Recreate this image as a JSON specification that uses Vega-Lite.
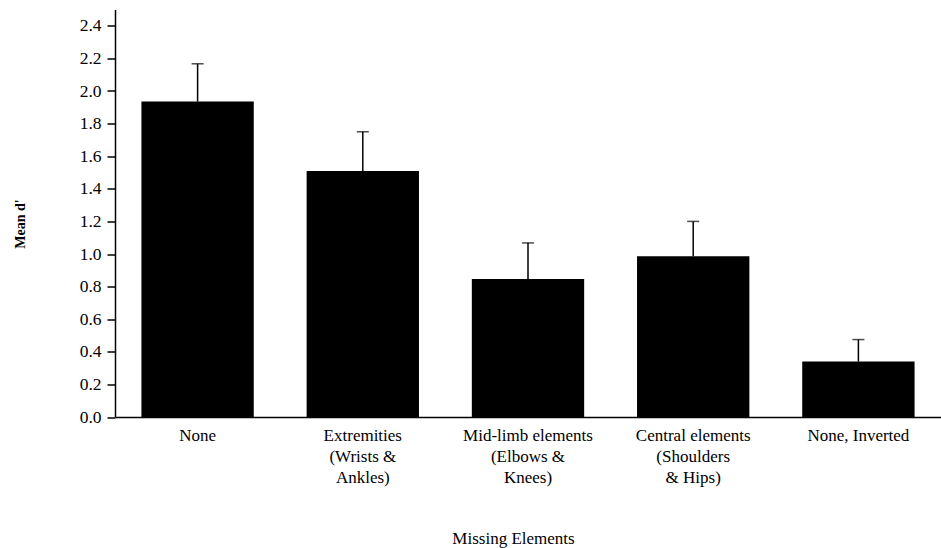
{
  "$schema": "https://vega.github.io/schema/vega-lite/v6.json",
  "autosize": "none",
  "width": 826,
  "height": 407.5,
  "padding": {"left": 115, "top": 9.5, "right": 0, "bottom": 131},
  "background": "white",
  "config": {
    "view": {"stroke": null},
    "font": "Liberation Serif",
    "axis": {"labelFont": "Liberation Serif", "titleFont": "Liberation Serif", "labelColor": "black", "titleColor": "black", "domainColor": "black", "tickColor": "black", "grid": false}
  },
  "data": {
    "values": [
      {"element": "None", "label": "None", "mean": 1.935, "upper": 2.167},
      {"element": "Extremities", "label": "Extremities|(Wrists &|Ankles)", "mean": 1.509, "upper": 1.75},
      {"element": "Mid-limb", "label": "Mid-limb elements|(Elbows &|Knees)", "mean": 0.846, "upper": 1.068},
      {"element": "Central", "label": "Central elements|(Shoulders|& Hips)", "mean": 0.986, "upper": 1.2},
      {"element": "Inverted", "label": "None, Inverted", "mean": 0.34, "upper": 0.475}
    ]
  },
  "encoding": {
    "x": {
      "field": "label", "type": "nominal", "sort": null,
      "scale": {"paddingInner": 0.32, "paddingOuter": 0.16},
      "axis": {
        "title": "Missing Elements", "titleFontSize": 17, "titleFontWeight": "normal",
        "titlePadding": 45, "titleX": 398,
        "labelAngle": 0, "labelFontSize": 17, "labelPadding": 10,
        "labelFont": "Liberation Serif", "titleFont": "Liberation Serif",
        "labelExpr": "split(datum.label, '|')", "labelLineHeight": 21,
        "labelOverlap": false,
        "ticks": false, "domainWidth": 1.5
      }
    },
    "y": {
      "field": "mean", "type": "quantitative",
      "scale": {"domain": [0, 2.5], "nice": false, "zero": true},
      "axis": {
        "title": "Mean d'", "titleFontSize": 14, "titleFontWeight": "bold",
        "titlePadding": 52, "titleY": 214,
        "labelFont": "Liberation Serif", "titleFont": "Liberation Serif",
        "values": [0, 0.2, 0.4, 0.6, 0.8, 1.0, 1.2, 1.4, 1.6, 1.8, 2.0, 2.2, 2.4],
        "format": ".1f", "labelFontSize": 17.5, "labelPadding": 6,
        "labelOverlap": false,
        "tickSize": 8, "tickWidth": 1.5, "domainWidth": 1.5
      }
    }
  },
  "layer": [
    {
      "mark": {"type": "bar", "color": "black"}
    },
    {
      "mark": {"type": "rule", "color": "black", "strokeWidth": 1.5},
      "encoding": {
        "y2": {"field": "upper"}
      }
    },
    {
      "mark": {"type": "tick", "color": "black", "thickness": 1.5, "size": 12, "orient": "horizontal"},
      "encoding": {
        "y": {
          "field": "upper", "type": "quantitative",
          "axis": {
            "title": "Mean d'", "titleFontSize": 14, "titleFontWeight": "bold",
            "titlePadding": 52, "titleY": 214,
            "labelFont": "Liberation Serif", "titleFont": "Liberation Serif",
            "values": [0, 0.2, 0.4, 0.6, 0.8, 1.0, 1.2, 1.4, 1.6, 1.8, 2.0, 2.2, 2.4],
            "format": ".1f", "labelFontSize": 17.5, "labelPadding": 6,
            "labelOverlap": false,
            "tickSize": 8, "tickWidth": 1.5, "domainWidth": 1.5
          }
        }
      }
    }
  ]
}
